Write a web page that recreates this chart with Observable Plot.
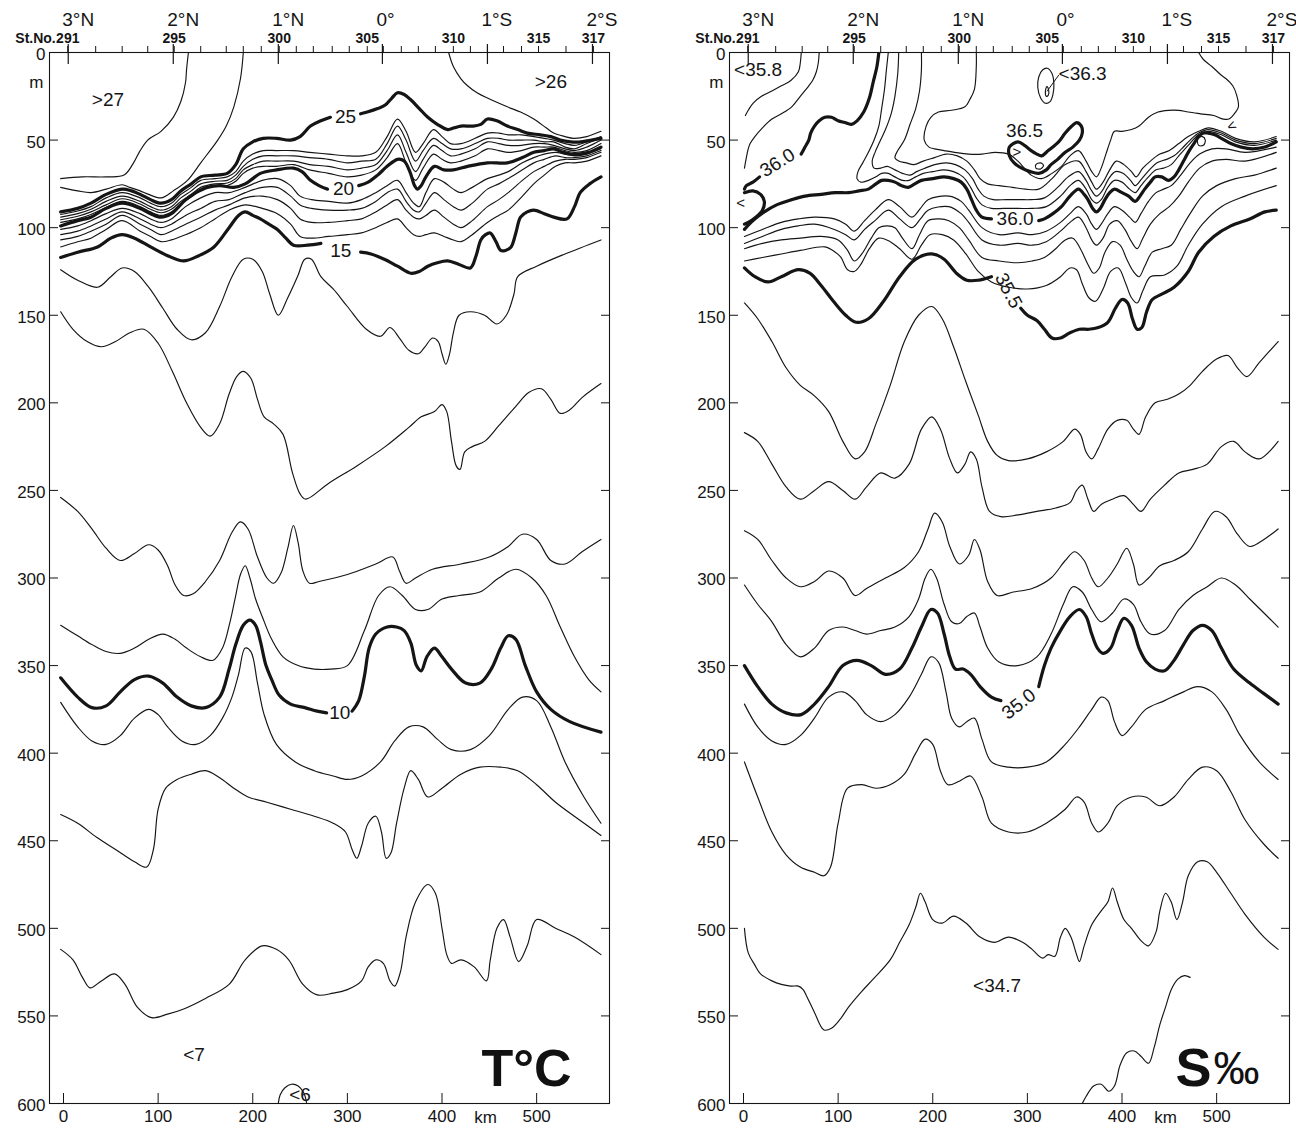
<!DOCTYPE html>
<html>
<head>
<meta charset="utf-8">
<script src="https://cdn.jsdelivr.net/npm/d3@7"></script>
<script src="https://cdn.jsdelivr.net/npm/@observablehq/plot@0.6"></script>
<style>
html,body{margin:0;padding:0;background:#fff;}
#wrap{display:flex;width:1296px;height:1130px;overflow:hidden;}
#wrap svg{display:block;flex:none;}
</style>
</head>
<body>
<div id="wrap"></div>
<script>
// ---------------- axes data ----------------
const depthTicks = [0,50,100,150,200,250,300,350,400,450,500,550,600];
const kmTicks = [0,100,200,300,400,500];
const stationKm = [4.5,34,62,89,117,145,172,190,209,228,246,264,284,302,321,338,357,375,393,412,430,448,465,484,502,531,560];
const stationLabelNo = ["291","295","300","305","310","315","317"];
const stationLabelKm = [4.5,117,228,321,412,502,560];
const latKm = [5,116,227,337,448,559];
const latText = ["3°N","2°N","1°N","0°","1°S","2°S"];

// ---------------- temperature isotherms (km, m) ----------------
const T27 = [[132,0],[130,10],[129,17],[124,28],[116,37],[103,45],[89,50],[80,57],[74,63],[64,70],[45,71],[20,71],[-3,72]];
const T26a = [[190,0],[187,15],[180,31],[172,42],[163,50],[145,63],[131,73],[116,79],[103,83],[90,81],[81,79],[70,77],[62,75.5],[45,78],[29,80],[15,79],[-3,77]];
const T26b = [[407,0],[412,8],[420,15],[427,19],[437,23],[448,26],[469,31],[483,34],[497,38],[510,43],[518,46],[530,48],[539,49],[553,48],[568,45]];
const T25a = [[-3,91],[15,89],[29,86],[45,81],[62,78],[72,79],[81,81],[92,84],[103,86],[114,84],[124,79],[135,75],[145,71],[160,70],[173,69],[182,64],[190,55],[200,51],[211,49],[225,49],[240,50],[250,48],[261,42],[272,39],[282,37]];
const T25b = [[314,35],[321,34],[332,32],[340,30],[347,26],[353,23],[360,24],[367,27],[376,32],[385,37],[395,41],[406,44],[413,43],[420,42],[433,42],[441,41],[448,38],[458,39],[469,42],[480,44],[490,46],[504,47],[515,48],[525,50],[536,51],[547,51],[558,50],[568,49]];
const T24 = [[-3,92.5],[15,90.5],[29,88],[45,83],[62,80],[81,83],[92,86],[103,88],[114,86],[124,81],[135,77],[145,73],[160,72],[173,71],[182,68],[190,62],[200,58],[211,56],[225,56],[243,56],[260,57],[280,58],[300,59],[315,59],[330,57],[342,48],[353,38],[362,45],[372,57],[380,52],[391,44],[400,48],[409,52],[420,52],[435,49],[448,46],[460,46],[470,47],[484,47],[497,48],[508,49],[518,50],[530,52],[540,53],[553,51],[568,48]];
const T23 = [[-3,94],[15,92],[29,89.5],[45,85],[62,82],[81,85],[92,88],[103,90],[114,88],[124,83],[135,79],[145,75],[160,73.5],[173,73],[182,70],[190,65],[200,61],[211,59],[225,59],[243,59],[260,60],[280,61],[300,63],[315,62],[330,61],[342,52],[353,42],[362,50],[372,62],[380,56],[391,49],[400,52],[409,55],[420,55],[435,52],[448,49],[460,49],[470,50],[484,50],[497,50],[508,51],[518,51],[530,54],[540,55],[553,52],[568,49]];
const T22 = [[-3,95.5],[15,93.5],[29,91],[45,87],[62,83.5],[81,86.5],[92,89.5],[103,91.5],[114,89.5],[124,85],[135,81],[145,77],[160,75],[173,74.5],[182,72],[190,67],[200,64],[211,62],[225,62],[243,62],[260,64],[280,65],[300,67],[315,66],[330,64],[342,56],[353,47],[362,57],[372,68],[380,61],[391,53],[400,56],[409,59],[420,58],[435,55],[448,51],[460,52],[470,53],[484,53],[497,52],[508,52],[518,53],[530,55],[540,56],[553,54],[568,50]];
const T21 = [[-3,97],[15,95],[29,92.5],[45,88.5],[62,85],[81,88],[92,91],[103,93],[114,91],[124,86.5],[135,82.5],[145,78.5],[160,76.5],[173,76],[182,73.5],[190,69],[200,66],[211,65],[225,65],[243,64],[260,67],[280,69],[300,71],[315,70],[330,67],[342,60],[353,52],[362,63],[372,73],[380,66],[391,58],[400,61],[409,63],[420,62],[435,59],[448,55],[460,56],[470,57],[484,56],[497,54],[508,54],[518,54],[530,56],[540,57],[553,56],[568,52]];
const T20a = [[-3,99],[15,96],[29,94],[45,89],[62,86],[81,89],[92,92],[103,94],[114,92],[129,84],[140,80],[152,77],[165,76],[180,77],[192,75],[200,72],[208,69],[225,67],[243,66],[252,68],[261,73],[270,76],[279,78]];
const T20b = [[312,76],[322,74],[332,70],[342,65],[353,61],[360,62],[366,68],[371,76],[374,78],[378,76],[383,71],[392,65],[402,67],[412,67],[427,65],[448,63],[469,63],[485,60],[497,57],[508,56],[518,55],[528,57],[536,58],[545,58],[555,57],[568,54]];
const T19 = [[-3,101],[15,99],[29,96],[45,92],[62,89],[81,92],[92,95],[103,97],[114,95],[129,88],[145,83],[160,80],[175,80],[192,77],[210,73],[226,72],[240,76],[250,82],[262,84],[280,85],[300,86],[315,84],[330,80],[342,76],[353,73],[362,80],[370,86],[376,88],[383,80],[392,72],[402,74],[412,78],[420,80],[432,77],[448,72],[460,70],[470,68],[485,63],[497,60],[508,58],[520,57],[530,58],[540,59],[553,58],[568,55]];
const T18 = [[-3,104],[15,102],[29,99],[45,95],[62,91],[81,95],[92,98],[103,100],[114,98],[129,93],[145,89],[160,85],[175,84],[192,80],[210,77],[226,77],[240,82],[250,87],[262,89],[280,90],[300,90],[315,89],[330,85],[342,80],[353,78],[362,85],[370,90],[376,91],[383,86],[392,80],[402,84],[412,88],[420,90],[432,86],[448,78],[460,75],[470,72],[485,67],[497,63],[508,61],[520,59],[530,60],[540,60],[553,59],[568,56]];
const T17 = [[-3,107],[15,105],[29,102],[45,98],[62,93],[81,98],[92,101],[103,104],[114,102],[129,98],[145,94],[160,90],[175,87],[192,83],[210,82],[226,84],[240,89],[250,95],[262,97],[280,97],[300,96],[315,95],[330,91],[342,87],[353,84],[362,90],[370,94],[376,95],[383,93],[392,90],[402,94],[412,98],[420,100],[432,96],[448,88],[460,84],[470,80],[485,73],[497,68],[508,65],[520,62],[530,61],[540,61],[553,60],[568,57]];
const T16 = [[-3,111],[15,108],[29,106],[45,101],[62,96],[81,102],[92,105],[103,108],[114,107],[129,104],[145,100],[160,95],[175,90],[192,87],[210,89],[226,92],[240,98],[250,105],[262,106],[280,105],[300,104],[315,103],[330,100],[342,97],[353,95],[362,100],[370,104],[376,105],[383,104],[392,103],[402,105],[412,107],[420,108],[432,104],[448,97],[460,93],[470,90],[485,82],[497,75],[508,70],[520,65],[530,63],[540,63],[553,62],[568,59]];
const T15a = [[-3,117],[15,114],[36,111],[50,106],[62,104],[75,106],[92,111],[110,116],[127,119],[143,116],[159,111],[175,100],[185,93],[192,91],[200,93],[208,95],[217,98],[226,101],[235,106],[243,110],[258,110],[272,109]];
const T15b = [[314,114],[325,115],[339,118],[353,122],[367,126],[376,125],[385,122],[395,120],[406,119],[418,121],[430,123],[436,116],[441,107],[446,104],[451,103],[457,108],[462,113],[467,113],[473,111],[478,103],[483,94],[490,91],[497,90],[508,92],[518,94],[532,95],[540,88],[546,80],[556,75],[568,71]];
const T14 = [[-3,124],[15,130],[36,134],[50,128],[62,123],[75,125],[90,134],[105,146],[120,158],[135,164],[150,160],[165,145],[178,128],[190,118],[200,118],[210,125],[218,138],[227,150],[237,140],[248,127],[255,118],[262,118],[272,128],[285,135],[300,145],[320,158],[335,162],[345,157],[355,163],[365,170],[375,172],[382,168],[390,163],[396,165],[400,172],[404,178],[408,172],[412,160],[418,150],[430,148],[445,150],[458,155],[468,150],[476,138],[480,128],[500,122],[530,115],[568,107]];
const T13 = [[-3,148],[10,158],[25,165],[40,168],[55,165],[70,160],[85,158],[100,166],[115,182],[130,200],[145,214],[155,219],[165,212],[175,195],[183,185],[190,182],[198,186],[205,198],[212,208],[222,212],[232,218],[242,240],[250,252],[256,255],[280,246],[310,236],[340,225],[365,214],[378,208],[392,205],[400,201],[405,205],[410,222],[415,236],[419,238],[424,228],[432,225],[445,222],[460,213],[478,202],[492,194],[505,192],[515,198],[525,206],[535,204],[548,197],[568,189]];
const T12 = [[-3,254],[15,262],[30,272],[45,283],[60,290],[75,286],[90,281],[100,284],[110,293],[118,304],[127,310],[137,309],[150,302],[165,290],[178,274],[187,268],[195,272],[205,288],[215,300],[222,303],[230,297],[237,283],[243,270],[248,280],[253,296],[260,303],[270,302],[300,298],[330,292],[348,288],[355,296],[362,303],[372,300],[390,295],[420,292],[450,288],[470,282],[485,275],[500,278],[515,290],[530,292],[548,285],[568,278]];
const T11 = [[-3,327],[15,333],[30,338],[45,342],[60,343],[75,340],[90,335],[105,332],[118,335],[130,340],[145,345],[158,347],[168,340],[176,325],[182,310],[187,298],[192,293],[197,300],[203,312],[210,322],[220,335],[232,345],[248,350],[265,352],[282,352],[300,350],[318,330],[333,310],[345,305],[358,310],[372,318],[385,318],[400,312],[418,310],[440,308],[460,300],[478,295],[495,300],[510,310],[525,328],[540,345],[555,358],[568,365]];
const T10a = [[-3,357],[15,368],[30,374],[45,373],[60,365],[75,358],[90,356],[105,360],[120,368],[135,373],[150,374],[165,368],[175,352],[182,338],[190,327],[197,324],[203,327],[208,336],[214,350],[220,358],[228,367],[240,372],[255,374],[268,376],[278,377]];
const T10b = [[305,376],[312,370],[318,356],[323,340],[330,332],[342,328],[352,328],[360,330],[367,337],[373,350],[378,353],[384,345],[392,340],[400,345],[410,352],[425,360],[440,360],[452,352],[462,340],[470,333],[478,335],[488,350],[500,365],[515,375],[535,382],[568,388]];
const T9 = [[-3,371],[15,385],[30,393],[45,395],[60,390],[75,380],[90,375],[100,378],[110,385],[125,393],[140,395],[155,390],[168,380],[178,368],[185,355],[192,340],[198,342],[205,360],[212,378],[225,395],[245,405],[265,410],[285,413],[300,415],[315,413],[335,405],[350,393],[365,385],[380,385],[395,392],[410,398],[430,398],[450,390],[470,375],[485,368],[500,370],[515,385],[530,405],[550,425],[568,440]];
const T8 = [[-3,435],[15,440],[35,448],[55,455],[75,462],[88,465],[95,455],[100,432],[108,420],[120,415],[135,412],[150,410],[165,414],[180,420],[195,425],[215,428],[240,432],[265,436],[285,440],[298,445],[305,455],[310,460],[315,453],[322,440],[330,436],[336,445],[341,460],[346,457],[352,440],[360,420],[367,410],[375,415],[385,425],[400,420],[420,412],[440,408],[462,408],[480,410],[500,418],[520,428],[545,438],[568,447]];
const T7 = [[-3,512],[10,518],[20,528],[28,534],[40,530],[54,526],[65,532],[78,545],[93,551],[110,549],[127,546],[150,540],[175,532],[192,518],[210,510],[225,512],[238,518],[253,532],[268,538],[285,537],[300,535],[315,530],[322,522],[330,518],[338,520],[345,530],[350,533],[356,525],[362,505],[372,485],[385,475],[393,480],[400,500],[405,515],[410,520],[420,518],[434,522],[447,530],[451,518],[458,500],[465,495],[472,505],[481,519],[490,510],[500,495],[520,500],[540,505],[568,515]];
const T6 = [[227,600],[229,595],[234,591],[241,589],[248,590],[254,594],[257,600]];

const tempLabels = [
  {t:">27", km:47, m:27}, {t:">26", km:515, m:17},
  {t:"25", km:298, m:37}, {t:"20", km:296, m:78}, {t:"15", km:293, m:113},
  {t:"10", km:292, m:377}, {t:"<7", km:138, m:572}, {t:"<6", km:250, m:595}
];

// ---------------- salinity isohalines (km, m) ----------------
const S35_8top = [[61,0],[60,6],[58,11],[50,16],[40,19],[30,22],[19,25],[10,29],[5,33],[2,36]];
const S35_9top = [[80,0],[79,6],[77,11],[73,16],[69,19],[60,25],[51,31],[40,35],[30,38],[20,43],[12,48],[7,52],[5,55],[3,60],[1,66]];
const S36_0top = [[143,0],[141,8],[137,17],[133,26],[127,34],[120,39],[114,41],[107,40],[100,39],[93,37],[86,37],[80,39],[75,42],[71,46],[69,50],[65,54],[61,58]];
const S36_0left = [[17,71],[10,74],[3,76],[1,78]];
const S36_0bulge = [[1,80],[10,79],[18,81],[22,85],[20,90],[13,94],[5,97],[1,98]];
const S36_0a = [[1,101],[10,96],[22,91],[35,87],[51,84],[65,82],[82,81],[97,80],[111,80],[122,79],[132,78],[140,75],[146,73],[153,73],[160,74],[167,76],[174,77],[181,75],[188,73],[200,72],[212,71],[222,72],[230,74],[236,78],[241,84],[246,90],[252,94],[262,95]];
const S36_0b = [[312,96],[318,95],[327,92],[336,88],[345,82],[354,78],[360,81],[364,84],[369,89],[373,91],[377,89],[382,84],[387,80],[392,78],[400,80],[407,82],[414,85],[419,82],[424,78],[430,74],[435,71],[442,71],[449,73],[455,71],[460,67],[465,62],[470,57],[476,52],[481,48],[486,46],[491,46],[498,47],[505,49],[515,52],[526,54],[538,55],[551,54],[563,51]];
const S36_1 = [[153,0],[151,10],[149,21],[146,32],[143,42],[138,50],[132,57],[126,63],[121,68],[120,72],[124,74],[132,73],[140,71],[146,69],[153,69],[160,71],[168,73],[175,73],[182,71],[190,69],[200,68],[212,67],[222,68],[232,71],[240,77],[246,83],[252,87],[262,89],[275,89],[290,89],[305,89],[320,88],[335,82],[345,76],[354,73],[362,78],[368,84],[373,86],[378,84],[385,77],[392,73],[400,74],[408,78],[414,80],[420,76],[428,71],[436,67],[444,66],[452,64],[460,59],[470,53],[481,47],[491,45],[505,47],[520,51],[540,53],[563,50]];
const S36_2 = [[164,0],[163,12],[160,25],[156,35],[150,44],[144,51],[139,57],[136,62],[138,66],[145,66],[152,65],[160,67],[168,69],[176,70],[183,68],[192,66],[202,64],[214,63],[224,64],[234,67],[242,72],[248,78],[254,82],[264,84],[278,84],[292,84],[304,84],[318,83],[332,77],[343,71],[354,68],[362,73],[368,79],[373,82],[379,79],[386,72],[393,68],[401,69],[409,73],[414,76],[421,72],[429,67],[437,63],[447,61],[455,59],[463,55],[472,50],[481,46],[491,44],[505,46],[520,50],[540,52],[563,49]];
const S36_3 = [[188,0],[188,10],[186,22],[182,32],[176,41],[170,50],[163,56],[160,60],[164,62],[172,63],[180,64],[190,62],[202,60],[214,58],[226,59],[236,62],[244,67],[250,72],[258,75],[270,76],[284,77],[298,78],[312,78],[326,72],[340,64],[354,62],[362,68],[368,74],[373,78],[380,74],[387,67],[394,62],[402,64],[410,68],[415,71],[422,66],[430,62],[440,58],[450,56],[460,52],[470,48],[481,45],[491,43],[505,45],[520,49],[540,51],[563,48]];
const S36_4 = [[246,0],[246,8],[244,21],[239,27],[234,31],[220,33],[206,34],[198,37],[193,42],[191,50],[196,54],[202,55],[212,56],[223,57],[238,58],[252,58],[266,57],[280,58],[290,62],[304,70],[315,72],[326,69],[336,65],[345,59],[354,56],[362,62],[368,68],[373,71],[378,66],[383,58],[388,50],[392,45],[400,45],[410,44],[418,42],[428,37],[438,34],[449,33],[460,33],[470,34],[483,35],[497,36],[507,38],[513,38],[520,34],[523,31],[521,24],[517,19],[510,15],[505,13],[495,8],[486,4],[481,0]];
const S36_5loop = [[281,54],[290,51],[297,53],[304,56],[310,58],[315,59],[322,56],[333,51],[340,46],[347,42],[352,40],[357,42],[358,46],[355,50],[348,54],[340,57],[332,61],[325,64],[320,67],[312,69],[303,68],[294,66],[286,63],[281,59]];
const S36_5small = [[309,64],[314,63],[317,64.5],[314,66.5],[309,66]];
const S36_3eye = [[316,10],[321,9],[326,12],[328,18],[327,24],[324,28],[319,29],[314,26],[311,20],[312,14]];
const S36_3dot = [[320.5,19.5],[322.5,21.5],[322,24.5],[320,25],[319,22.5]];
const S36_bundleDot = [[480,49],[485,48],[488,50],[486,53],[481,53]];
const S36_3leader = [[321,22],[333,13]];
const S35_9 = [[1,105],[20,101],[40,97],[58,95],[75,94],[96,95],[108,98],[117,102],[128,96],[139,90],[153,84],[165,88],[178,94],[187,89],[195,84],[217,82],[230,85],[238,90],[252,100],[270,104],[290,103],[305,104],[320,102],[335,97],[345,92],[354,88],[362,92],[368,98],[373,101],[378,98],[385,92],[392,88],[400,90],[408,94],[414,97],[420,92],[428,85],[436,80],[444,78],[452,76],[462,70],[472,63],[482,58],[495,55],[510,55],[530,57],[563,54]];
const S35_8 = [[1,109],[20,105],[40,101],[58,99],[75,98],[96,101],[108,104],[117,107],[128,101],[139,96],[153,90],[165,95],[178,100],[187,95],[195,90],[217,88],[230,92],[238,97],[252,107],[270,110],[290,109],[305,110],[320,108],[335,102],[345,97],[354,94],[362,100],[368,107],[373,110],[380,106],[387,98],[395,96],[403,101],[410,108],[416,112],[422,106],[430,98],[440,92],[450,88],[460,82],[470,74],[482,66],[495,62],[510,61],[530,62],[563,57]];
const S35_7 = [[1,112],[20,109],[40,107],[60,106],[82,105],[100,107],[110,113],[117,119],[125,115],[135,106],[143,100],[152,99],[160,100],[168,106],[178,112],[186,104],[195,96],[207,95],[217,96],[228,100],[238,107],[252,117],[270,119],[290,120],[305,119],[318,117],[330,112],[340,107],[348,106],[356,112],[364,121],[370,126],[376,123],[382,114],[390,108],[398,110],[405,118],[412,125],[418,128],[424,122],[432,114],[442,112],[452,110],[462,101],[472,92],[485,82],[500,76],[520,72],[540,70],[563,66]];
const S35_6 = [[1,119],[20,117],[40,115],[60,113],[86,111],[97,114],[103,117],[110,124],[117,125],[124,121],[133,112],[143,106],[155,108],[165,112],[178,118],[188,110],[197,104],[210,104],[222,107],[235,115],[248,125],[262,131],[280,134],[300,135],[320,133],[335,128],[345,123],[352,124],[358,132],[365,140],[372,142],[380,135],[388,125],[396,123],[404,132],[410,140],[416,143],[422,136],[430,128],[445,127],[458,122],[470,110],[485,98],[505,88],[530,82],[563,76]];
const S35_5a = [[1,123],[12,128],[26,131],[40,128],[58,124],[70,126],[82,133],[95,142],[108,150],[119,154],[132,152],[148,142],[165,128],[182,118],[199,115],[212,118],[225,126],[236,130],[248,130],[262,128]];
const S35_5b = [[293,146],[300,150],[310,153],[318,158],[326,163],[335,163],[345,160],[355,158],[365,158],[375,157],[385,154],[393,146],[400,141],[406,143],[411,152],[416,158],[421,157],[426,148],[432,141],[442,138],[455,134],[470,125],[481,114],[497,105],[515,99],[535,95],[551,91],[563,90]];
const S35_4 = [[1,143],[15,152],[30,165],[45,180],[60,190],[75,196],[90,205],[105,222],[118,232],[128,228],[140,212],[155,190],[170,165],[185,150],[199,145],[210,152],[222,168],[235,188],[248,207],[258,222],[268,230],[280,233],[300,232],[320,228],[338,222],[350,215],[356,218],[362,228],[368,232],[375,226],[385,215],[395,210],[405,210],[412,215],[418,218],[425,208],[435,200],[448,198],[460,195],[472,190],[485,182],[500,175],[512,173],[522,180],[532,185],[545,177],[565,165]];
const S35_3 = [[1,217],[15,222],[30,235],[45,248],[60,255],[75,250],[90,245],[105,250],[118,255],[130,248],[145,240],[160,243],[175,235],[188,215],[199,208],[208,215],[218,232],[226,240],[234,235],[240,228],[246,232],[252,248],[260,262],[272,265],[290,264],[310,262],[330,260],[345,257],[352,250],[358,247],[364,255],[370,262],[378,258],[390,255],[402,253],[412,258],[420,262],[430,255],[445,247],[460,240],[475,238],[490,235],[505,225],[518,222],[530,228],[545,232],[565,222]];
const S35_2 = [[1,273],[15,278],[30,290],[45,300],[60,305],[75,302],[90,296],[105,300],[118,310],[130,306],[150,300],[170,294],[185,285],[195,272],[202,263],[210,268],[218,282],[228,292],[238,287],[244,278],[250,284],[258,302],[268,310],[285,308],[305,306],[325,300],[340,290],[350,285],[360,290],[368,300],[375,305],[385,300],[395,292],[405,283],[412,292],[418,304],[428,300],[440,293],[455,290],[470,285],[485,272],[498,262],[510,265],[522,275],[535,282],[550,278],[565,272]];
const S35_1 = [[1,304],[15,315],[30,325],[45,338],[60,345],[75,340],[90,330],[105,328],[118,330],[130,332],[145,330],[160,328],[175,322],[185,312],[192,300],[198,295],[204,300],[212,315],[220,325],[228,326],[236,322],[244,320],[250,328],[258,340],[270,348],[290,350],[310,345],[325,332],[338,315],[348,305],[358,308],[368,318],[378,325],[390,320],[402,312],[412,315],[420,325],[430,332],[445,330],[460,318],[475,310],[490,305],[505,300],[520,304],[535,312],[550,320],[565,328]];
const S35_0a = [[1,350],[15,362],[30,372],[45,377],[61,378],[75,372],[90,362],[105,350],[120,347],[135,350],[150,355],[165,352],[178,340],[188,328],[198,318],[205,320],[212,332],[218,345],[224,352],[232,352],[240,355],[250,362],[262,368],[272,370]];
const S35_0b = [[312,362],[318,350],[325,340],[335,330],[345,322],[355,318],[362,322],[368,332],[374,340],[380,343],[388,340],[395,330],[402,323],[410,327],[418,340],[426,348],[435,352],[445,353],[455,347],[465,338],[475,330],[485,327],[495,330],[505,340],[518,352],[535,360],[550,366],[565,372]];
const S34_9 = [[1,372],[15,385],[30,393],[45,395],[60,390],[75,380],[90,368],[105,365],[118,370],[130,378],[145,382],[160,378],[175,368],[188,355],[198,345],[206,348],[214,365],[220,380],[228,385],[236,382],[244,380],[252,392],[262,405],[280,408],[300,408],[320,405],[340,395],[355,385],[368,375],[378,368],[385,370],[392,382],[400,390],[410,385],[425,375],[445,370],[465,365],[480,362],[495,365],[510,375],[525,390],[545,405],[565,415]];
const S34_8 = [[1,405],[15,425],[30,445],[45,458],[60,465],[75,468],[85,470],[92,465],[100,440],[110,420],[125,418],[140,420],[155,418],[170,412],[182,400],[192,392],[200,395],[208,410],[216,418],[228,416],[240,413],[252,425],[262,440],[280,445],[300,445],[320,440],[340,432],[352,425],[360,428],[368,440],[375,445],[385,440],[395,430],[410,425],[425,425],[440,430],[455,425],[470,415],[485,408],[500,410],[515,422],[530,438],[550,452],[565,460]];
const S34_75 = [[1,500],[5,514],[12,521],[18,526],[30,530],[40,532],[50,533],[58,533],[63,535],[67,539],[75,548],[85,558],[93,557],[102,552],[111,545],[125,536],[137,529],[155,518],[165,508],[175,498],[182,488],[187,480],[192,485],[200,495],[210,497],[222,493],[235,497],[250,505],[265,508],[280,505],[295,508],[305,512],[316,517],[322,515],[329,516],[335,505],[340,500],[346,505],[352,515],[355,519],[360,510],[368,498],[378,490],[385,485],[390,477],[395,485],[402,495],[410,500],[420,507],[428,510],[436,502],[440,490],[446,480],[452,485],[458,495],[464,485],[470,470],[480,462],[490,462],[500,468],[515,480],[530,492],[550,505],[565,512]];
const S34_7 = [[358,600],[362,596],[370,590],[378,589],[386,593],[392,590],[398,578],[405,571],[413,570],[420,573],[428,577],[434,568],[440,555],[446,545],[452,535],[459,529],[466,527],[472,528]];

const salLabels = [
  {t:"36.5", km:297, m:45, r:0}, {t:"36.0", km:287, m:95, r:0},
  {t:"<34.7", km:268, m:533, r:0},
  {t:"36.0", km:36, m:63, r:-32}, {t:"35.5", km:280, m:136, r:62}, {t:"35.0", km:291, m:372, r:-38}
];
const salStartLabels = [{t:"<35.8", km:-10, m:10}, {t:"<36.3", km:333, m:12}];
const salMarks = [{t:"<", km:-3, m:86, r:0}, {t:">", km:289, m:57, r:0}, {t:"<", km:516, m:42, r:-25}];

// ---------------- helpers ----------------
const FONT = "'Liberation Sans', Arial, Helvetica, sans-serif";
function rows(list){ return list.flatMap(([id, pts]) => pts.map(([km, m]) => ({id, km, m}))); }

function panel(cfg){
  const W = 648, H = 1130, mt = 52, mb = 27;
  const ml = cfg.ml, mr = cfg.mr;
  const pw = W - ml - mr, ph = H - mt - mb;
  const ink = "#151515";
  const marks = [
    Plot.frame({stroke: ink, strokeWidth: 1.1}),
    // depth ticks inside left and right frame
    Plot.tickY(depthTicks, {y: d => d, insetRight: pw - 9, stroke: ink}),
    Plot.tickY(depthTicks, {y: d => d, insetLeft: pw - 8, stroke: ink}),
    Plot.text(depthTicks, {y: d => d, text: d => String(d), frameAnchor: "left", textAnchor: "end", dx: -4, dy: 2, fontSize: 17, fill: ink}),
    Plot.text(["m"], {y: [17], text: d => d, frameAnchor: "left", textAnchor: "end", dx: -6, fontSize: 17, fill: ink}),
    // km ticks & labels
    Plot.tickX(kmTicks, {x: d => d, insetTop: ph - 10, stroke: ink}),
    Plot.text(kmTicks, {x: d => d, text: d => String(d), frameAnchor: "bottom", lineAnchor: "top", dy: 6, fontSize: 17, fill: ink}),
    Plot.text(["km"], {x: [446], text: d => d, frameAnchor: "bottom", lineAnchor: "top", dy: 7, fontSize: 17, fill: ink}),
    // stations on top
    Plot.tickX(stationKm, {x: d => d, insetTop: -6, insetBottom: ph, stroke: ink}),
    Plot.tickX(latKm, {x: d => d, insetTop: -8, insetBottom: ph - 12, stroke: ink, strokeWidth: 1.2}),
    Plot.text(stationLabelNo, {x: (d, i) => stationLabelKm[i], text: d => d, frameAnchor: "top", lineAnchor: "bottom", dy: -10, fontSize: 14, fontWeight: "bold", fill: ink}),
    Plot.text(["St.No."], {x: [stationLabelKm[0]], text: d => d, frameAnchor: "top", lineAnchor: "bottom", textAnchor: "end", dx: -12, dy: -10, fontSize: 14, fontWeight: "bold", fill: ink}),
    Plot.text(latText, {x: (d, i) => latKm[i], text: d => d, frameAnchor: "top", lineAnchor: "bottom", textAnchor: "start", dx: -6, dy: -27, fontSize: 19, fill: ink}),
    // contours
    Plot.line(rows(cfg.thin), {x: "km", y: "m", z: "id", stroke: ink, strokeWidth: 1.15, curve: "catmull-rom", clip: true}),
    Plot.line(rows(cfg.thick), {x: "km", y: "m", z: "id", stroke: ink, strokeWidth: 3.2, curve: "catmull-rom", clip: true}),
    Plot.line(rows(cfg.loops || []), {x: "km", y: "m", z: "id", stroke: ink, strokeWidth: 1.15, curve: "catmull-rom-closed", clip: true}),
    Plot.line(rows(cfg.thickLoops || []), {x: "km", y: "m", z: "id", stroke: ink, strokeWidth: 3.2, curve: "catmull-rom-closed", clip: true}),
    Plot.line(rows(cfg.straight || []), {x: "km", y: "m", z: "id", stroke: ink, strokeWidth: 1, clip: true}),
    // labels
    Plot.text(cfg.labels, {x: "km", y: "m", text: "t", rotate: "r", fontSize: 19, fill: ink}),
    Plot.text(cfg.startLabels || [], {x: "km", y: "m", text: "t", textAnchor: "start", fontSize: 19, fill: ink}),
    Plot.text(cfg.smallMarks || [], {x: "km", y: "m", text: "t", rotate: "r", fontSize: 15, fill: ink}),
    ...cfg.extra
  ];
  return Plot.plot({
    width: W, height: H, marginTop: mt, marginBottom: mb, marginLeft: ml, marginRight: mr,
    x: {domain: [-14.8, 577], axis: null},
    y: {domain: [0, 600], reverse: true, axis: null},
    style: {fontFamily: FONT, background: "#fff", overflow: "visible"},
    marks
  });
}

const tempPanel = panel({
  ml: 49, mr: 39,
  thin: [["T27",T27],["T26a",T26a],["T26b",T26b],["T24",T24],["T23",T23],["T22",T22],["T21",T21],["T19",T19],["T18",T18],["T17",T17],["T16",T16],["T14",T14],["T13",T13],["T12",T12],["T11",T11],["T9",T9],["T8",T8],["T7",T7],["T6",T6]],
  thick: [["T25a",T25a],["T25b",T25b],["T20a",T20a],["T20b",T20b],["T15a",T15a],["T15b",T15b],["T10a",T10a],["T10b",T10b]],
  labels: tempLabels.map(d => ({...d, r: 0})),
  extra: [
    Plot.text(["T°C"], {text: d => d, frameAnchor: "bottom-right", textAnchor: "end", lineAnchor: "bottom", dx: -38, dy: -18, fontSize: 52, fontWeight: "bold", fill: "#111"})
  ]
});

const salPanel = panel({
  ml: 81, mr: 7,
  thin: [["a",S35_8top],["b",S35_9top],["c",S36_1],["d",S36_2],["e",S36_3],["f",S36_4],["g",S35_9],["h",S35_8],["i",S35_7],["j",S35_6],["k",S35_4],["l",S35_3],["n",S35_2],["o",S35_1],["p",S34_9],["q",S34_8],["r",S34_75],["s",S34_7]],
  thick: [["A",S36_0top],["B",S36_0left],["C",S36_0bulge],["D",S36_0a],["E",S36_0b],["F",S35_5a],["G",S35_5b],["H",S35_0a],["I",S35_0b]],
  loops: [["L1",S36_3eye],["L2",S36_3dot],["L3",S36_5small],["L4",S36_bundleDot]],
  thickLoops: [["L5",S36_5loop]],
  straight: [["z",S36_3leader]],
  labels: salLabels,
  startLabels: salStartLabels,
  smallMarks: salMarks,
  extra: [
    Plot.text(["S"], {text: d => d, frameAnchor: "bottom-right", textAnchor: "end", lineAnchor: "bottom", dx: -78, dy: -18, fontSize: 54, fontWeight: "bold", fill: "#111"}),
    Plot.text(["‰"], {text: d => d, frameAnchor: "bottom-right", textAnchor: "end", lineAnchor: "bottom", dx: -30, dy: -20, fontSize: 46, fill: "#111"})
  ]
});

document.getElementById("wrap").append(tempPanel, salPanel);
</script>
</body>
</html>
